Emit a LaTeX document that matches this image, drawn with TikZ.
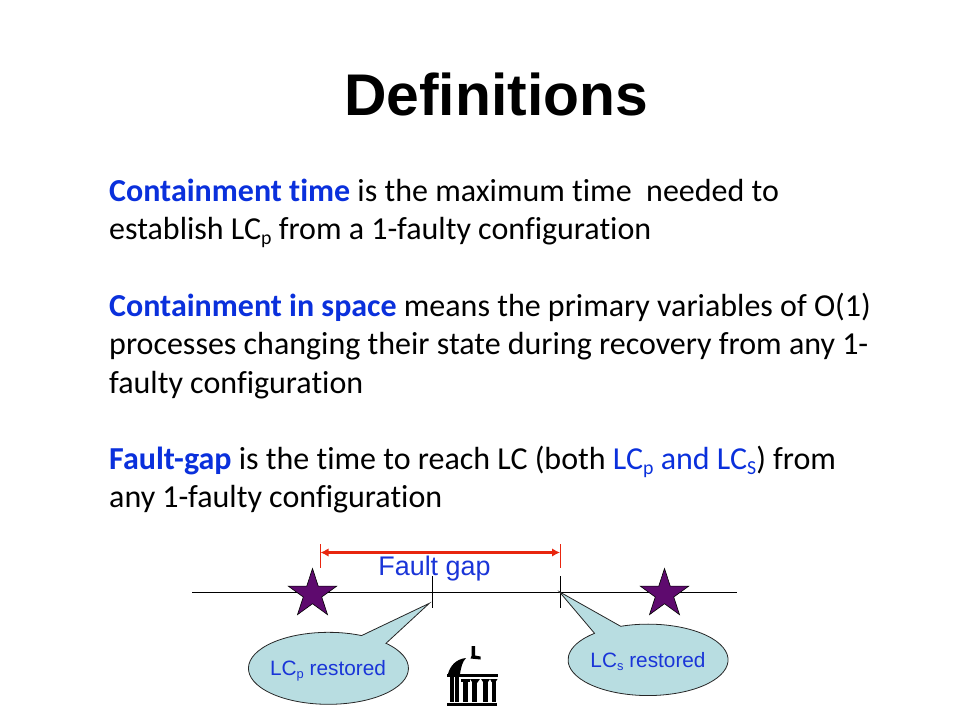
\documentclass[tikz,border=0pt]{standalone}
\usepackage{fontspec}
\setmainfont[Ligatures=NoCommon]{Carlito}
\newfontfamily\arialfont{Liberation Sans}
\usetikzlibrary{shapes.geometric,arrows.meta}
\definecolor{bodyblue}{HTML}{0A30DC}
\definecolor{labelblue}{HTML}{1A35D8}
\definecolor{calloutfill}{HTML}{B8DDE1}
\definecolor{starfill}{HTML}{5E0A6E}
\definecolor{gapred}{HTML}{E8260F}
\tikzset{
  line/.style={anchor=base west,inner sep=0pt,font=\fontsize{32}{34}\selectfont,text=black},
  calloutline/.style={draw=black!85,line width=0.8pt,fill=calloutfill},
  calltext/.style={anchor=base,inner sep=0pt,text=labelblue,font=\arialfont\fontsize{20.8}{22}\selectfont},
  fstar/.style={star,star points=5,star point ratio=2.618,draw=black,line width=0.6pt,fill=starfill,inner sep=0pt,minimum size=51pt},
  rule/.style={draw=black,line width=1pt},
  redtick/.style={draw=gapred,line width=1pt},
}
\newcommand{\bl}[1]{\textcolor{bodyblue}{#1}}
\newcommand{\bb}[1]{\textcolor{bodyblue}{\bfseries #1}}
\newcommand{\lsub}[1]{\raisebox{-.17em}{\scalebox{.62}{#1}}}
\begin{document}
\begin{tikzpicture}[x=1pt,y=-1pt]
\useasboundingbox (0,0) rectangle (960,720);
\node[anchor=base,inner sep=0pt,font=\arialfont\bfseries\fontsize{58.8}{64}\selectfont] (title) at (496,115) {Definitions};
\node[line] (l1) at (109,201) {\bb{Containment time} is the maximum time\ \ needed to};
\node[line] (l2) at (109,239) {establish LC\lsub{p} from a 1-faulty configuration};
\node[line] (l3) at (109,316) {\bb{Containment in space} means the primary variables of O(1)};
\node[line] (l4) at (109,354) {processes changing their state during recovery from any 1-};
\node[line] (l5) at (109,393) {faulty configuration};
\node[line] (l6) at (109,469) {\bb{Fault-gap} is the time to reach LC (both \bl{LC\lsub{p} and LC\lsub{S}}) from};
\node[line] (l7) at (109,507) {any 1-faulty configuration};
% time line
\coordinate (tlL) at (192,592);
\coordinate (tlR) at (737,592);
\draw[rule] (tlL) -- (tlR);
\coordinate (t1a) at (432,576); \coordinate (t1b) at (432,608);
\coordinate (t2a) at (560.5,576); \coordinate (t2b) at (560.5,608);
\draw[rule] (t1a) -- (t1b);
\draw[rule] (t2a) -- (t2b);
% fault gap
\coordinate (r1a) at (320,544); \coordinate (r1b) at (320,568);
\coordinate (r2a) at (560.5,544); \coordinate (r2b) at (560.5,568);
\draw[redtick] (r1a) -- (r1b);
\draw[redtick] (r2a) -- (r2b);
\coordinate (g1) at (320.5,552.5); \coordinate (g2) at (560,552.5);
\draw[gapred,line width=3pt,{Latex[length=8pt,width=8.5pt]}-{Latex[length=8pt,width=8.5pt]}] (g1) -- (g2);
\node[anchor=base,inner sep=0pt,text=labelblue,font=\arialfont\fontsize{26.9}{28}\selectfont] (gap) at (434.5,575) {Fault gap};
% stars
\node[fstar] (s1) at (312.5,594) {};
\node[fstar] (s2) at (664.5,594) {};
% callouts
\draw[calloutline] (386,643.3) arc[start angle=-44,end angle=294.5,x radius=80,y radius=36] -- (429.3,603.3) -- cycle;
\node[calltext] (c1) at (328,675) {LC\lsub{p} restored};
\draw[calloutline] (620.7,626.3) arc[start angle=-110,end angle=228,x radius=80,y radius=35.7] -- (559.3,591.7) -- cycle;
\node[calltext] (c2) at (648,667) {LC\lsub{s} restored};
% logo
\fill[black] (471.5,646) -- (475,646) -- (475,655.5) -- (480.5,656.5) -- (480.5,659.5) -- (470.5,658.5) -- (471.5,656) -- cycle;
\fill[black] (448,674) .. controls (450,666) and (456,659) .. (466,658) .. controls (462,662) and (461,668) .. (460,674) -- cycle;
\fill[black] (447,673.5) rectangle (498,676.5);
\fill[black] (449.5,676) rectangle (453.5,702);
\fill[black] (454.5,676) rectangle (459,702);
\fill[black] (463,681) rectangle (467.5,702);
\fill[black] (461,679) -- (470,679) -- (470,682) -- (461,682) -- cycle;
\fill[black] (472,681) rectangle (477,702);
\fill[black] (470,679) -- (480,679) -- (477,683) -- (472,682) -- cycle;
\fill[black] (483,681) rectangle (488,702);
\fill[black] (481,679) -- (490,679) -- (488,682) -- (483,682) -- cycle;
\fill[black] (491.5,681) rectangle (495.5,702);
\fill[black] (490,679) -- (497.5,679) -- (495.5,682) -- (491.5,682) -- cycle;
\fill[black] (447,702.5) rectangle (497,705.5);
\end{tikzpicture}
\end{document}
